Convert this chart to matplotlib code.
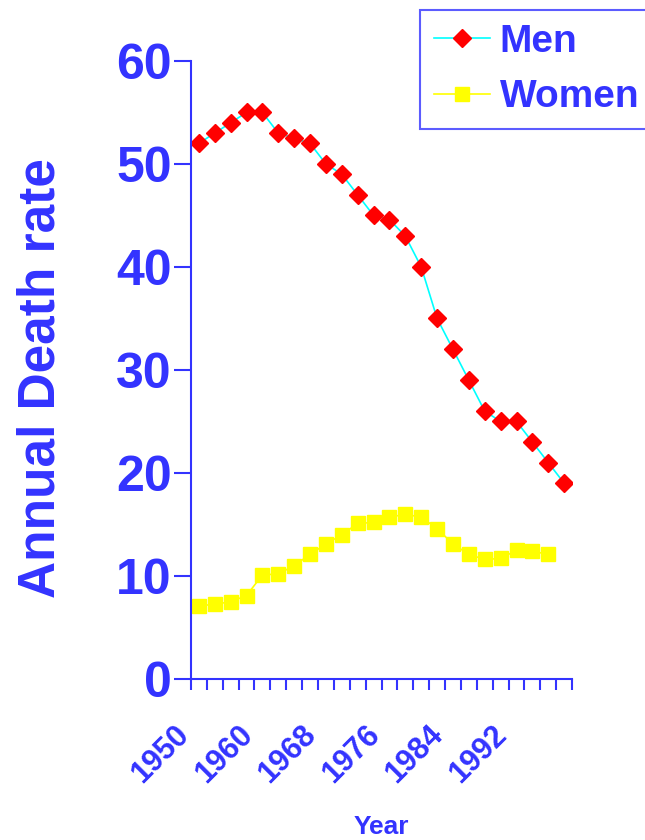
import numpy as np
import matplotlib.pyplot as plt

# values
men = [52, 53, 54, 55, 55, 53, 52.5, 52, 50, 49, 47, 45, 44.6, 43, 40,
       35, 32, 29, 26, 25, 25, 23, 21, 19]
women = [7.1, 7.25, 7.5, 8.1, 10.1, 10.2, 11, 12.1, 13.1, 14, 15.1, 15.2,
         15.7, 16, 15.7, 14.6, 13.1, 12.1, 11.6, 11.7, 12.5, 12.4, 12.1]
year_labels = ['1950', '1960', '1968', '1976', '1984', '1992']
label_every = 4

blue = '#3333ff'
plt.rcParams['font.family'] = ['Liberation Sans', 'DejaVu Sans']
plt.rcParams['font.weight'] = 'bold'

fig = plt.figure(figsize=(6.45, 8.4), dpi=100)
ax = fig.add_axes([0.296, 0.1917, 0.591, 0.7357])

n = len(men)
x_men = np.arange(len(men)) + 0.5
x_women = np.arange(len(women)) + 0.5

ax.plot(x_men, men, color='#00ffff', lw=1.2, marker='D', ms=9,
        mfc='red', mec='red', label='Men')
ax.plot(x_women, women, color='#ffff00', lw=1.2, marker='s', ms=10.5,
        mfc='#ffff00', mec='#ffff00', label='Women')

ax.set_xlim(0, n)
ax.set_ylim(0, 60)
ax.set_yticks(range(0, 61, 10))
ax.set_xticks(np.arange(0, n + 1))
ax.set_xticklabels([])

# year labels sit under every 4th category, rotated
for i, lab in enumerate(year_labels):
    ax.annotate(lab, xy=(i * label_every + 0.5, 0),
                xycoords=('data', 'axes fraction'),
                xytext=(-18, -29.5), textcoords='offset points',
                rotation=45, rotation_mode='anchor', ha='right', va='top',
                fontsize=22, color=blue, fontweight='bold',
                annotation_clip=False)

ax.tick_params(axis='x', which='major', direction='out', length=8,
               width=1.5, color=blue)
ax.tick_params(axis='y', direction='out', length=12, width=1.5, color=blue,
               labelsize=36, labelcolor=blue, pad=2)

for s in ['top', 'right']:
    ax.spines[s].set_visible(False)
for s in ['left', 'bottom']:
    ax.spines[s].set_color(blue)
    ax.spines[s].set_linewidth(1.5)

ax.set_ylabel('Annual Death rate', fontsize=37, color=blue, fontweight='bold',
              labelpad=36)
ax.yaxis.label.set_y(0.487)
fig.text(0.592, 0.001, 'Year', fontsize=19, color=blue,
         fontweight='bold', ha='center', va='bottom')

leg = ax.legend(loc='upper left', bbox_to_anchor=(420 / 645, 1 - 10 / 840),
                bbox_transform=fig.transFigure, borderaxespad=0,
                fontsize=28, frameon=True, fancybox=False, handlelength=1.45,
                borderpad=0.36, labelspacing=0.5, handletextpad=0.24)
leg.get_frame().set_edgecolor(blue)
leg.get_frame().set_linewidth(1.5)
for t in leg.get_texts():
    t.set_color(blue)

fig.savefig('out.png', dpi=100)
